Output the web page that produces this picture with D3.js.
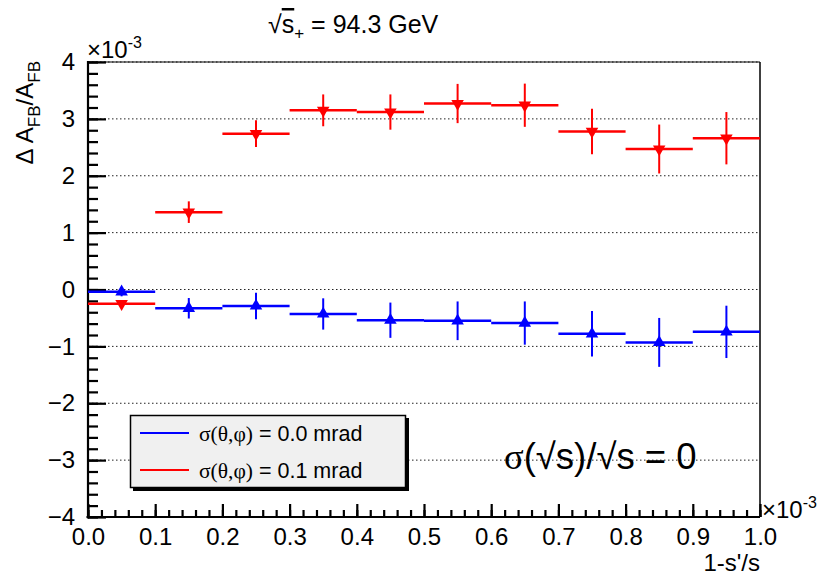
<!DOCTYPE html>
<meta charset="utf-8">
<style>
body { margin: 0; background: #fff; }
svg { display: block; font-family: "Liberation Sans", Arial, sans-serif; }
.grid line { stroke: #222; stroke-width: 1; stroke-dasharray: 1.5,2.5; }
.axis path { display: none; }
.axis line { stroke: #000; stroke-width: 2.2px; }
.axis text { font-size: 24px; fill: #000; font-family: "Liberation Sans", Arial, sans-serif; }
</style>
<svg width="821" height="575"></svg>
<script src="https://d3js.org/d3.v7.min.js"></script>
<script>

// bins of 1-s'/s (in units of 10^-3)
var binCenters = [0.05, 0.15, 0.25, 0.35, 0.45, 0.55, 0.65, 0.75, 0.85, 0.95];
var binHalf = 0.05;

// sigma(theta,phi) = 0.0 mrad  (blue, up triangles)
var blueVals = [-0.04, -0.33, -0.29, -0.43, -0.54, -0.55, -0.59, -0.78, -0.93, -0.745];
var blueErrs = [0.08, 0.18, 0.235, 0.275, 0.31, 0.34, 0.38, 0.40, 0.43, 0.46];

// sigma(theta,phi) = 0.1 mrad  (red, down triangles)
var redVals = [-0.25, 1.36, 2.74, 3.15, 3.12, 3.27, 3.24, 2.78, 2.47, 2.66];
var redErrs = [0.05, 0.19, 0.235, 0.28, 0.31, 0.345, 0.38, 0.40, 0.43, 0.46];

var xTicks = [0, 0.1, 0.2, 0.3, 0.4, 0.5, 0.6, 0.7, 0.8, 0.9, 1.0];
var yTicks = [-4, -3, -2, -1, 0, 1, 2, 3, 4];
var gridVals = [-3, -2, -1, 0, 1, 2, 3, 4];

var svg = d3.select("svg");
var x = d3.scaleLinear().domain([0, 1]).range([88, 760]);
var y = d3.scaleLinear().domain([-4, 4]).range([517, 62]);

// grid
svg.append("g").attr("class", "grid")
  .selectAll("line").data(gridVals).enter().append("line")
    .attr("x1", x(0)).attr("x2", x(1))
    .attr("y1", function(d) { return y(d); })
    .attr("y2", function(d) { return y(d); });

// frame (top / right)
svg.append("line").attr("x1", x(0)).attr("x2", x(1)).attr("y1", y(4)).attr("y2", y(4))
  .attr("stroke", "#000").attr("stroke-width", 1);
svg.append("line").attr("x1", x(1)).attr("x2", x(1)).attr("y1", y(4)).attr("y2", y(-4))
  .attr("stroke", "#000").attr("stroke-width", 1.5);

// sigma annotation
var ann = svg.append("text")
  .attr("x", 504).attr("y", 469)
  .style("font-size", "36.5px");
ann.append("tspan").style("font-family", "'Liberation Serif', serif").text("σ");
ann.append("tspan").text("(√s)/√s = 0");

// legend
var leg = svg.append("g");
leg.append("rect").attr("x", 133).attr("y", 418).attr("width", 276).attr("height", 73).attr("fill", "#000");
leg.append("rect").attr("x", 130.5).attr("y", 415.5).attr("width", 275).attr("height", 72)
  .attr("fill", "#f0f0f0").attr("stroke", "#000").attr("stroke-width", 1.5);
var legItems = [
  { color: "#0000ff", label: "0.0 mrad", y: 433 },
  { color: "#ff0000", label: "0.1 mrad", y: 470 }
];
legItems.forEach(function(it) {
  leg.append("line").attr("x1", 140).attr("x2", 189).attr("y1", it.y).attr("y2", it.y)
    .attr("stroke", it.color).attr("stroke-width", 2);
  var t = leg.append("text").attr("x", 199).attr("y", it.y + 8).style("font-size", "21.5px");
  t.append("tspan").style("font-family", "'Liberation Serif', serif").text("σ(θ,φ)");
  t.append("tspan").text(" = " + it.label);
});

// y axis
var yAxisG = svg.append("g").attr("class", "axis").attr("transform", "translate(" + x(0) + ",0)");
yAxisG.call(d3.axisLeft(y).tickValues(d3.range(-4, 4.01, 0.2)).tickSize(-10).tickFormat(""));
yAxisG.append("g").call(d3.axisLeft(y).tickValues(yTicks).tickSize(-18).tickPadding(13).tickFormat(d3.format("d")));
yAxisG.selectAll("path").style("display", "none");
yAxisG.append("line").attr("x1", 0).attr("x2", 0).attr("y1", y(4) - 1).attr("y2", y(-4) + 1.5)
  .attr("stroke", "#000").attr("stroke-width", 3);

// x axis
var xAxisG = svg.append("g").attr("class", "axis").attr("transform", "translate(0," + y(-4) + ")");
xAxisG.call(d3.axisBottom(x).tickValues(d3.range(0, 1.001, 0.02)).tickSize(-7).tickFormat(""));
xAxisG.append("g").call(d3.axisBottom(x).tickValues(xTicks).tickSize(-13).tickPadding(11).tickFormat(d3.format(".1f")));
xAxisG.selectAll("path").style("display", "none");
xAxisG.append("line").attr("x1", x(0) - 1.5).attr("x2", x(1)).attr("y1", 0).attr("y2", 0)
  .attr("stroke", "#000").attr("stroke-width", 3);

// data series
function drawSeries(vals, errs, color, rot) {
  var data = binCenters.map(function(c, i) { return { c: c, v: vals[i], e: errs[i] }; });
  var g = svg.append("g");
  g.selectAll(".h").data(data).enter().append("line")
    .attr("x1", function(d) { return x(d.c - binHalf); })
    .attr("x2", function(d) { return x(d.c + binHalf); })
    .attr("y1", function(d) { return y(d.v); })
    .attr("y2", function(d) { return y(d.v); })
    .attr("stroke", color).attr("stroke-width", 2.5);
  g.selectAll(".v").data(data).enter().append("line")
    .attr("x1", function(d) { return x(d.c); })
    .attr("x2", function(d) { return x(d.c); })
    .attr("y1", function(d) { return y(d.v + d.e); })
    .attr("y2", function(d) { return y(d.v - d.e); })
    .attr("stroke", color).attr("stroke-width", 2);
  g.selectAll("path").data(data).enter().append("path")
    .attr("d", d3.symbol().type(d3.symbolTriangle).size(68))
    .attr("transform", function(d) { return "translate(" + x(d.c) + "," + y(d.v) + ") rotate(" + rot + ")"; })
    .attr("fill", color);
}
drawSeries(blueVals, blueErrs, "#0000ff", 0);
drawSeries(redVals, redErrs, "#ff0000", 180);

// exponent labels
function expLabel(px, py) {
  var t = svg.append("text").attr("x", px).attr("y", py).style("font-size", "24px");
  t.append("tspan").text("×10");
  t.append("tspan").attr("dy", -10).style("font-size", "16px").text("-3");
}
expLabel(87, 58);
expLabel(762, 518);

// axis titles
svg.append("text").attr("x", 760).attr("y", 571).attr("text-anchor", "end")
  .style("font-size", "24px").text("1-s'/s");

var yt = svg.append("text").attr("transform", "translate(33,61) rotate(-90)")
  .attr("text-anchor", "end").style("font-size", "24px");
yt.append("tspan").text("Δ A");
yt.append("tspan").attr("dy", 7).style("font-size", "17px").text("FB");
yt.append("tspan").attr("dy", -7).text("/A");
yt.append("tspan").attr("dy", 7).style("font-size", "17px").text("FB");

// title
var tt = svg.append("text").attr("x", 268).attr("y", 33).style("font-size", "25px");
tt.append("tspan").text("√");
tt.append("tspan").style("text-decoration", "overline").text("s");
tt.append("tspan").attr("dy", 6).style("font-size", "17px").text("+");
tt.append("tspan").attr("dy", -6).text(" = 94.3 GeV");
</script>
